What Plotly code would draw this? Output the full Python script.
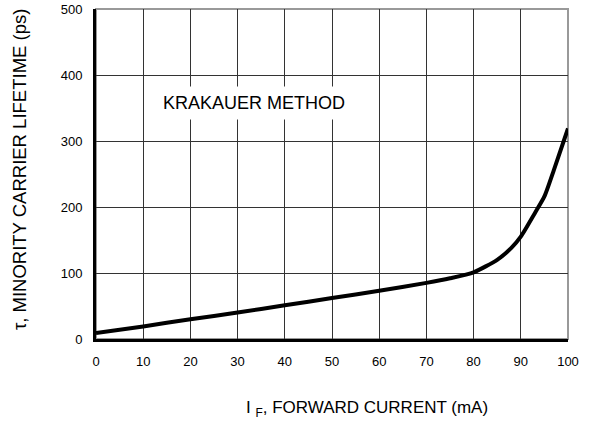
import plotly.graph_objects as go

current_ma = [0, 10, 20, 30, 40, 50, 60, 70, 75, 80, 85, 88, 90, 93, 95, 97, 100]
lifetime_ps = [9, 19, 30, 40, 51, 62, 73, 85, 92, 101, 120, 138, 155, 191, 216, 256, 319]
x_ticks = [0, 10, 20, 30, 40, 50, 60, 70, 80, 90, 100]
y_ticks = [0, 100, 200, 300, 400, 500]
x_title = "I <sub>F</sub>, FORWARD CURRENT (mA)"
y_title = "τ, MINORITY CARRIER LIFETIME (ps)"
note = "KRAKAUER METHOD"

FONT = "Liberation Sans, Arial, sans-serif"

fig = go.Figure()
fig.add_trace(go.Scatter(
    x=current_ma, y=lifetime_ps, mode="lines",
    line=dict(color="black", width=4, shape="spline", smoothing=0.6),
    showlegend=False, hoverinfo="skip",
))

# thin grey frame on top and right (paper refs so it is not clipped)
fig.add_shape(type="rect", xref="paper", yref="paper", x0=0, x1=1, y0=0, y1=1,
              line=dict(color="#999999", width=2), layer="between")

fig.add_annotation(x=33.4, y=357, xref="x", yref="y", text=note,
                   showarrow=False, bgcolor="white", borderpad=6,
                   font=dict(family=FONT, size=18, color="black"))

fig.add_annotation(x=0.574, y=-0.212, xref="paper", yref="paper", text=x_title,
                   showarrow=False, xanchor="center", yanchor="middle",
                   font=dict(family=FONT, size=17, color="black"))

fig.add_annotation(x=-0.163, y=0.515, xref="paper", yref="paper", text=y_title,
                   showarrow=False, textangle=-90, xanchor="center", yanchor="middle",
                   font=dict(family=FONT, size=18.5, color="black"))

fig.update_layout(
    width=594, height=423,
    margin=dict(l=96, r=26, t=9, b=84),
    paper_bgcolor="white", plot_bgcolor="white",
    font=dict(family=FONT, color="black"),
    xaxis=dict(
        range=[0, 100], tickvals=x_ticks, ticktext=[str(v) for v in x_ticks],
        showgrid=True, gridcolor="#333333", gridwidth=1,
        showline=True, linecolor="black", linewidth=3,
        ticks="", zeroline=False, tickfont=dict(size=13),
        ticklabelstandoff=8, automargin=False, ticklabeloverflow="allow",
        layer="above traces",
    ),
    yaxis=dict(
        range=[0, 500], tickvals=y_ticks, ticktext=[str(v) for v in y_ticks],
        showgrid=True, gridcolor="#333333", gridwidth=1,
        showline=True, linecolor="black", linewidth=3,
        ticks="", zeroline=False, tickfont=dict(size=13),
        ticklabelstandoff=8, automargin=False, ticklabeloverflow="allow",
        layer="above traces",
    ),
)

fig.write_html("out.html", config={"displayModeBar": False},
               post_script="document.body.style.margin='0';")
